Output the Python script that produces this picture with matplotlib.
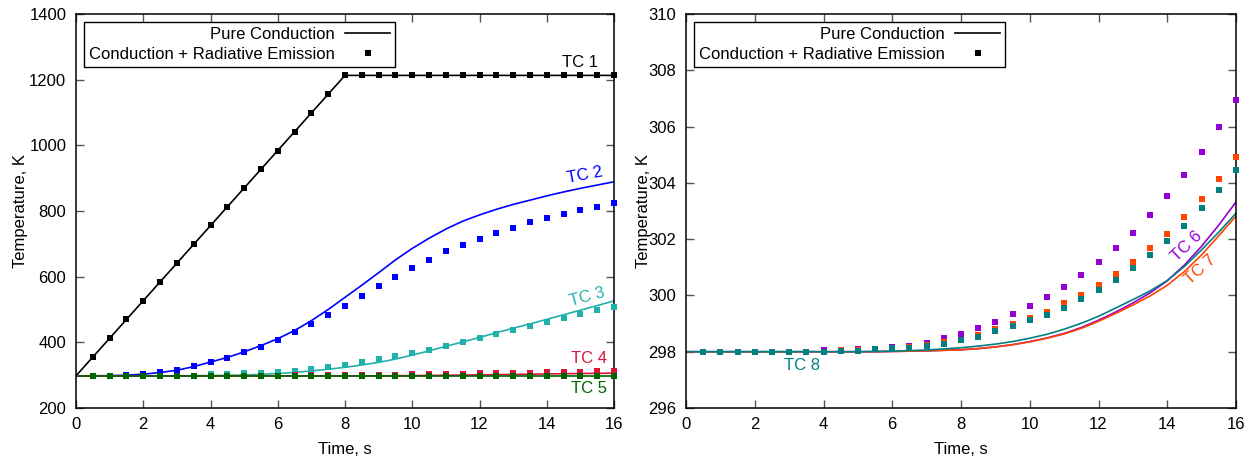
import matplotlib
matplotlib.use("Agg")
import matplotlib.pyplot as plt
from matplotlib.lines import Line2D

plt.rcParams['font.family'] = ['Liberation Sans', 'DejaVu Sans']
plt.rcParams['font.size'] = 12

# ---------------- data ----------------
t_line = [0, 0.5, 1, 1.5, 2, 2.5, 3, 3.5, 4, 4.5, 5, 5.5, 6, 6.5, 7, 7.5, 8,
          8.5, 9, 9.5, 10, 10.5, 11, 11.5, 12, 12.5, 13, 13.5, 14, 14.5, 15, 15.5, 16]
t_mark = [0.5, 1, 1.5, 2, 2.5, 3, 3.5, 4, 4.5, 5, 5.5, 6, 6.5, 7, 7.5, 8,
          8.5, 9, 9.5, 10, 10.5, 11, 11.5, 12, 12.5, 13, 13.5, 14, 14.5, 15, 15.5, 16]

# Left panel
tc1_line_t = [0, 8, 16]
tc1_line = [298, 1213, 1213]
tc1_mark = [355, 412, 470, 527, 584, 641, 698, 756, 813, 870, 927, 984, 1042, 1099, 1156, 1213,
            1213, 1213, 1213, 1213, 1213, 1213, 1213, 1213, 1213, 1213, 1213, 1213, 1213, 1213, 1213, 1213]

tc2_line = [298, 298, 298.5, 300, 303, 308, 315, 326, 340, 354, 371, 390, 411, 436, 466, 500, 537,
            574, 612, 651, 686, 717, 745, 769, 788, 805, 820, 833, 846, 858, 869, 879, 889]
tc2_mark = [298, 298, 299, 305, 311, 316, 327, 340, 353, 371, 386, 408, 430, 455, 483, 510,
            540, 571, 600, 627, 652, 677, 697, 715, 732, 749, 765, 780, 792, 803, 813, 823]

tc3_line = [298, 298, 298, 298, 298, 298, 298, 298.3, 298.8, 299.5, 300.5, 302.5, 305, 308.5, 313, 318, 324,
            331, 339, 349, 361, 374, 388, 401, 415, 429, 443, 456, 470, 484, 498, 512, 526]
tc3_mark = [298, 298, 298, 298, 298, 298, 298, 302.5, 303, 305.5, 308, 311, 314, 319, 324, 330,
            339, 349, 357, 367, 378, 389, 401, 413, 426, 438, 450, 462, 475, 487, 499, 509]

tc4_line = [298, 298, 298, 298, 298, 298, 298, 298, 298, 298, 298, 298, 298, 298, 298, 298, 298,
            298, 298, 298.3, 298.7, 299.2, 299.7, 300.3, 301, 301.6, 302.3, 303, 303.7, 304.4, 305, 305.6, 306.2]
tc4_mark = [298, 298, 298, 298, 298, 298, 298, 298, 298, 298, 298.3, 298.6, 299, 299.4, 299.8, 300.3,
            300.8, 301.3, 301.8, 302.4, 303, 303.7, 304.4, 305.2, 306, 306.9, 307.8, 308.8, 309.9, 311, 312.2, 313.4]

tc5_line = [298] * 33
tc5_mark = [298] * 32

# Right panel
tc6_line = [298, 298, 298, 298, 298, 298, 298, 298, 298, 298, 298, 298, 298.01, 298.02, 298.03, 298.05, 298.07,
            298.11, 298.17, 298.25, 298.36, 298.49, 298.65, 298.86, 299.12, 299.41, 299.73, 300.09, 300.52,
            301.08, 301.75, 302.5, 303.32]
tc7_line = [298, 298, 298, 298, 298, 298, 298, 298, 298, 298, 298, 298, 298.01, 298.02, 298.03, 298.05, 298.07,
            298.11, 298.17, 298.25, 298.35, 298.48, 298.63, 298.83, 299.08, 299.36, 299.66, 299.98, 300.36,
            300.85, 301.44, 302.12, 302.82]
tc8_line = [298, 298, 298, 298, 298, 298, 298, 298, 298, 298, 298, 298.01, 298.02, 298.04, 298.06, 298.1, 298.14,
            298.2, 298.27, 298.36, 298.48, 298.62, 298.8, 299.01, 299.26, 299.55, 299.85, 300.16, 300.53,
            301.03, 301.62, 302.25, 302.92]

tc6_mark = [298, 298, 298, 298, 298, 298, 298, 298.05, 298.04, 298.08, 298.11, 298.15, 298.21, 298.31, 298.47, 298.64,
            298.86, 299.07, 299.35, 299.63, 299.95, 300.31, 300.73, 301.2, 301.7, 302.23, 302.87, 303.55,
            304.28, 305.1, 305.98, 306.94]
tc7_mark = [298, 298, 298, 298, 298, 298, 298, 298, 298.05, 298.05, 298.1, 298.14, 298.17, 298.24, 298.33, 298.43,
            298.59, 298.79, 298.97, 299.19, 299.42, 299.72, 300.03, 300.37, 300.75, 301.2, 301.67, 302.2,
            302.8, 303.44, 304.15, 304.93]
tc8_mark = [298, 298, 298, 298, 298, 298, 298, 298, 298.04, 298.04, 298.08, 298.12, 298.14, 298.21, 298.29, 298.4,
            298.54, 298.72, 298.9, 299.11, 299.32, 299.57, 299.89, 300.21, 300.56, 300.99, 301.45, 301.94,
            302.48, 303.1, 303.73, 304.46]

left_x_ticks = [0, 2, 4, 6, 8, 10, 12, 14, 16]
left_y_ticks = [200, 400, 600, 800, 1000, 1200, 1400]
right_y_ticks = [296, 298, 300, 302, 304, 306, 308, 310]

C_BLACK = '#000000'
C_BLUE = '#0000ff'
C_CYAN = '#20b2aa'
C_RED = '#dc143c'
C_GREEN = '#006400'
C_PURPLE = '#9400d3'
C_ORANGE = '#ff4500'
C_TEAL = '#008080'

LW = 1.2
MS = 4.3

fig = plt.figure(figsize=(12.57, 4.66), dpi=100)
W, H = 1257, 466
ax1 = fig.add_axes([76 / W, 1 - 408 / H, (614 - 76) / W, (408 - 14) / H])
ax2 = fig.add_axes([686 / W, 1 - 408 / H, (1236 - 686) / W, (408 - 14) / H])


def series(ax, tl, yl, ym, color):
    ax.plot(tl, yl, color=color, lw=LW, zorder=2)
    ax.plot(t_mark, ym, ls='none', marker='s', ms=MS, mew=0, color=color, zorder=3, clip_on=False)


series(ax1, tc1_line_t, tc1_line, tc1_mark, C_BLACK)
series(ax1, t_line, tc2_line, tc2_mark, C_BLUE)
series(ax1, t_line, tc3_line, tc3_mark, C_CYAN)
series(ax1, t_line, tc4_line, tc4_mark, C_RED)
series(ax1, t_line, tc5_line, tc5_mark, C_GREEN)

series(ax2, t_line, tc6_line, tc6_mark, C_PURPLE)
series(ax2, t_line, tc7_line, tc7_mark, C_ORANGE)
series(ax2, t_line, tc8_line, tc8_mark, C_TEAL)

ax1.set_xlim(0, 16)
ax1.set_ylim(200, 1400)
ax1.set_xticks(left_x_ticks)
ax1.set_yticks(left_y_ticks)
ax2.set_xlim(0, 16)
ax2.set_ylim(296, 310)
ax2.set_xticks(left_x_ticks)
ax2.set_yticks(right_y_ticks)

for ax, lp in ((ax1, 1), (ax2, -2)):
    ax.tick_params(direction='in', top=True, right=True, length=6, width=1,
                   color='#555555', labelsize=12)
    ax.tick_params(axis='x', pad=6.5)
    ax.tick_params(axis='y', pad=7)
    for s in ax.spines.values():
        s.set_linewidth(1.1)
        s.set_color('black')
    ax.set_xlabel('Time, s', fontsize=12, labelpad=7)
    ax.set_ylabel('Temperature, K', fontsize=12, labelpad=lp)
    handles = [Line2D([], [], color='black', lw=LW),
               Line2D([], [], ls='none', marker='s', ms=MS, mew=0, color='black')]
    leg = ax.legend(handles, ['Pure Conduction', 'Conduction + Radiative Emission'],
                    loc='upper left', markerfirst=False, fancybox=False, framealpha=1,
                    edgecolor='black', fontsize=12, handlelength=2.7, handletextpad=0.6,
                    borderpad=0.3, labelspacing=0.3, borderaxespad=0.5)
    leg.get_frame().set_linewidth(1.0)

# annotations (left)
ax1.text(14.99, 1251, 'TC 1', color=C_BLACK, ha='center', va='center', fontsize=12)
ax1.text(15.14, 910, 'TC 2', color=C_BLUE, ha='center', va='center', fontsize=12, rotation=11)
ax1.text(15.19, 539, 'TC 3', color=C_CYAN, ha='center', va='center', fontsize=12, rotation=15)
ax1.text(15.27, 351, 'TC 4', color=C_RED, ha='center', va='center', fontsize=12)
ax1.text(15.27, 260, 'TC 5', color=C_GREEN, ha='center', va='center', fontsize=12)

# annotations (right)
ax2.text(14.57, 301.73, 'TC 6', color=C_PURPLE, ha='center', va='center', fontsize=12, rotation=44)
ax2.text(14.95, 300.91, 'TC 7', color=C_ORANGE, ha='center', va='center', fontsize=12, rotation=42)
ax2.text(3.37, 297.50, 'TC 8', color=C_TEAL, ha='center', va='center', fontsize=12)

fig.savefig('out.png', dpi=100)
